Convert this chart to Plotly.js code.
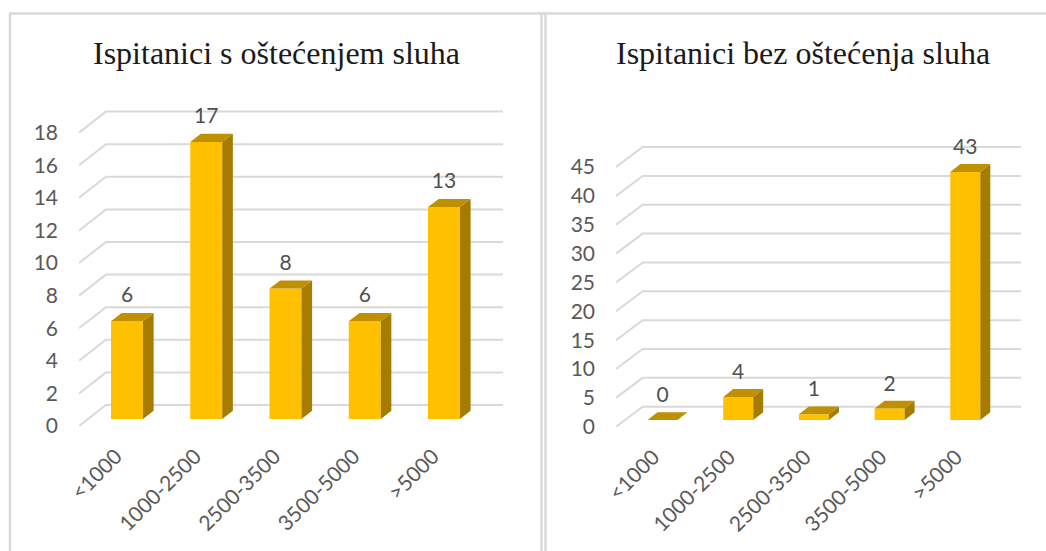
<!DOCTYPE html>
<html>
<head>
<meta charset="utf-8">
<script src="https://cdn.plot.ly/plotly-3.0.1.min.js"></script>
<style>html,body{margin:0;padding:0;background:#fff}#c{width:1046px;height:551px}</style>
</head>
<body>
<div id="c"></div>
<script>
const categories = ['<1000', '1000-2500', '2500-3500', '3500-5000', '>5000'];
const leftValues = [6, 17, 8, 6, 13];
const rightValues = [0, 4, 1, 2, 43];
const leftTicks = [0, 2, 4, 6, 8, 10, 12, 14, 16, 18];
const rightTicks = [0, 5, 10, 15, 20, 25, 30, 35, 40, 45];
const leftTitle = 'Ispitanici s oštećenjem sluha';
const rightTitle = 'Ispitanici bez oštećenja sluha';

const W = 1046, H = 551, TOP = 95;
const FRONT = '#ffc000', ROOF = '#bf9000', SIDE = '#a67c00', GRID = '#d9d9d9', TXT = '#595959';

function panel(o) {
  const sx = o.pitch, sy = o.scale;
  const toX = px => (px - o.c0) / sx;
  const base = (o.y0 - o.barBase) / sy;
  const halfW = o.barW / 2 / sx;
  const ddx = o.depthX / sx, ddy = o.depthY / sy;
  const gdx = o.gridDX / sx, gdy = o.gridDY / sy;
  const xl = toX(o.left), xr = toX(o.right);
  const idx = o.values.map((_, i) => i);
  const sideX = [], sideY = [], roofX = [], roofY = [];
  o.values.forEach((v, i) => {
    const t = base + v, a = i - halfW, b = i + halfW;
    sideX.push(b, b + ddx, b + ddx, b, b, null);
    sideY.push(base, base + ddy, t + ddy, t, base, null);
    roofX.push(a, a + ddx, b + ddx, b, a, null);
    roofY.push(t, t + ddy, t + ddy, t, t, null);
  });
  const face = (x, y, c) => ({
    type: 'scatter', mode: 'lines', x, y, xaxis: o.xa, yaxis: o.ya, fill: 'toself',
    fillcolor: c, line: {width: 0, color: c}, hoverinfo: 'skip', showlegend: false
  });
  const traces = [
    {type: 'bar', x: idx, y: o.values, base: base, width: o.barW / sx, xaxis: o.xa, yaxis: o.ya,
     marker: {color: FRONT, line: {width: 0}}, hoverinfo: 'skip', showlegend: false},
    face(sideX, sideY, SIDE),
    face(roofX, roofY, ROOF),
    {type: 'scatter', mode: 'text', x: idx, y: o.values.map(v => base + v + o.labelGap / sy),
     text: o.values.map(String), textposition: 'middle center', xaxis: o.xa, yaxis: o.ya,
     textfont: {family: 'Lato', size: 21, color: '#505050'}, hoverinfo: 'skip', showlegend: false}
  ];
  const shapes = o.ticks.map(v => ({
    type: 'path', layer: 'below', xref: o.xa, yref: o.ya,
    path: `M ${xl} ${v} L ${xl + gdx} ${v + gdy} L ${xr} ${v + gdy}`,
    line: {color: GRID, width: 2}
  }));
  const xaxis = {
    domain: [o.left / W, o.right / W], range: [xl, xr], anchor: o.ya, fixedrange: true,
    tickmode: 'array', tickvals: idx.map(i => i - o.labelShift / sx), ticktext: categories, tickangle: -45,
    ticklabelstandoff: o.xStandoff, ticks: '', showgrid: false, zeroline: false, showline: false,
    tickfont: {family: 'Lato', size: 21, color: TXT}
  };
  const yaxis = {
    domain: [(H - o.y0) / H, (H - TOP) / H], range: [0, (o.y0 - TOP) / sy], anchor: o.xa, fixedrange: true,
    tickmode: 'array', tickvals: o.ticks, ticklabelstandoff: o.yStandoff, ticks: '',
    showgrid: false, zeroline: false, showline: false,
    tickfont: {family: 'Lato', size: 21, color: TXT}
  };
  return {traces, shapes, xaxis, yaxis};
}

const L = panel({values: leftValues, ticks: leftTicks, xa: 'x', ya: 'y', c0: 127, pitch: 79.25, scale: 16.3,
  y0: 426, barBase: 419, barW: 32, depthX: 10.6, depthY: 8.2, gridDX: 27, gridDY: 21, left: 79, right: 503,
  labelGap: 24, labelShift: 11, xStandoff: 13, yStandoff: 20});
const R = panel({values: rightValues, ticks: rightTicks, xa: 'x2', ya: 'y2', c0: 662.5, pitch: 75.7, scale: 5.77,
  y0: 426.7, barBase: 420, barW: 30, depthX: 10, depthY: 7.8, gridDX: 26.7, gridDY: 20, left: 616, right: 1021,
  labelGap: 23, labelShift: 9, xStandoff: 13, yStandoff: 20});

const frame = (x0, y0, x1, y1) => ({type: 'line', xref: 'paper', yref: 'paper', layer: 'below',
  x0: x0 / W, x1: x1 / W, y0: 1 - y0 / H, y1: 1 - y1 / H, line: {color: GRID, width: 2.5}});

const title = (text, cx) => ({text, xref: 'paper', yref: 'paper', x: cx / W, y: 1 - 53 / H,
  xanchor: 'center', yanchor: 'middle', showarrow: false,
  font: {family: 'Liberation Serif', size: 32, color: '#1a1a1a'}});

const layout = {
  width: W, height: H, autosize: false, margin: {l: 0, r: 0, t: 0, b: 0},
  paper_bgcolor: '#fff', plot_bgcolor: 'rgba(0,0,0,0)', showlegend: false, barmode: 'overlay',
  xaxis: L.xaxis, yaxis: L.yaxis, xaxis2: R.xaxis, yaxis2: R.yaxis,
  shapes: [
    frame(9, 13.5, 1046, 13.5), frame(10, 13, 10, 551),
    frame(541.5, 13, 541.5, 551), frame(545.5, 13, 545.5, 551),
    ...L.shapes, ...R.shapes
  ],
  annotations: [title(leftTitle, 276), title(rightTitle, 802.5)]
};
Plotly.newPlot('c', [...L.traces, ...R.traces], layout, {displayModeBar: false, staticPlot: true});
</script>
</body>
</html>
